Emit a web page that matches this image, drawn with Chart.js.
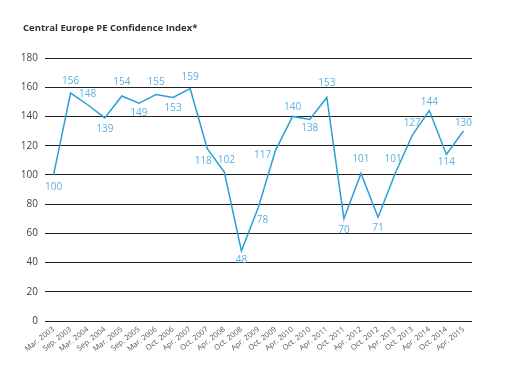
<!DOCTYPE html>
<html><head><meta charset="utf-8">
<script src="https://cdn.jsdelivr.net/npm/chart.js@4"></script>
<style>html,body{margin:0;padding:0;background:#fff}#wrap{width:506px;height:379px;position:relative}</style>
</head><body><div id="wrap"><canvas id="c" width="506" height="379"></canvas></div>
<script>
const titleText = 'Central Europe PE Confidence Index*';
const categories = ['Mar. 2003','Sep. 2003','Mar. 2004','Sep. 2004','Mar. 2005','Sep. 2005','Mar. 2006','Oct. 2006','Apr. 2007','Oct. 2007','Apr. 2008','Oct. 2008','Apr. 2009','Oct. 2009','Apr. 2010','Oct. 2010','Apr. 2011','Oct. 2011','Apr. 2012','Oct. 2012','Apr. 2013','Oct. 2013','Apr. 2014','Oct. 2014','Apr. 2015'];
const values = [100,156,148,139,154,149,155,153,159,118,102,48,78,117,140,138,153,70,101,71,101,127,144,114,130];
const yTicks = [0,20,40,60,80,100,120,140,160,180];
// value-label nudges in pixels [dx, dy] relative to the point (style only)
const labelNudge = [[0,12],[0,-12],[0,-11],[0,11],[0,-14],[0,10],[0,-12],[0,11],[0,-12],[-4,13],[2,-12],[0,9],[4,13],[-13,5],[0,-9],[0,9],[0,-14],[0,11],[0,-14],[0,11],[-2,-14],[0,-12],[0,-8],[0,8],[0,-8]];

const FONT = '"Open Sans", "DejaVu Sans", sans-serif';
const LINE = '#2a9fd8';
const LABEL = '#5cb0e0';

const labelsPlugin = {
  id: 'valueLabels',
  afterDatasetsDraw(chart) {
    const ctx = chart.ctx;
    const meta = chart.getDatasetMeta(0);
    ctx.save();
    ctx.font = '10px ' + FONT;
    ctx.fillStyle = LABEL;
    ctx.textAlign = 'center';
    ctx.textBaseline = 'middle';
    meta.data.forEach((pt, i) => {
      const n = labelNudge[i] || [0, -12];
      ctx.fillText(String(chart.data.datasets[0].data[i]), pt.x + n[0], pt.y + n[1]);
    });
    ctx.restore();
  }
};

const titlePlugin = {
  id: 'customTitle',
  afterDraw(chart) {
    const ctx = chart.ctx;
    ctx.save();
    ctx.font = 'bold 9.5px ' + FONT;
    ctx.fillStyle = '#333';
    ctx.textAlign = 'left';
    ctx.textBaseline = 'middle';
    ctx.fillText(titleText, 23, 28);
    ctx.restore();
  }
};

new Chart(document.getElementById('c'), {
  type: 'line',
  data: {
    labels: categories,
    datasets: [{
      data: values,
      borderColor: LINE,
      borderWidth: 1.5,
      pointRadius: 0,
      tension: 0,
      fill: false
    }]
  },
  options: {
    responsive: false,
    devicePixelRatio: 1,
    animation: false,
    layout: { padding: { left: 0, top: 58, right: 34, bottom: 27 } },
    plugins: { legend: { display: false }, tooltip: { enabled: false }, title: { display: false } },
    scales: {
      x: {
        type: 'category',
        offset: true,
        grid: { display: false, drawTicks: false },
        border: { display: false },
        ticks: {
          autoSkip: false,
          minRotation: 38,
          maxRotation: 38,
          padding: 4,
          color: '#555',
          font: { family: FONT, size: 7.5 }
        },
        afterFit(scale) { scale.height = 31; }
      },
      y: {
        min: 0,
        max: 180,
        afterBuildTicks(scale) { scale.ticks = yTicks.map(v => ({ value: v })); },
        grid: { color: '#222', lineWidth: 1, drawTicks: false },
        border: { display: false },
        ticks: {
          padding: 7,
          color: '#444',
          font: { family: FONT, size: 10 }
        },
        afterFit(scale) { scale.width = 45; }
      }
    }
  },
  plugins: [labelsPlugin, titlePlugin]
});
</script>
</body></html>
